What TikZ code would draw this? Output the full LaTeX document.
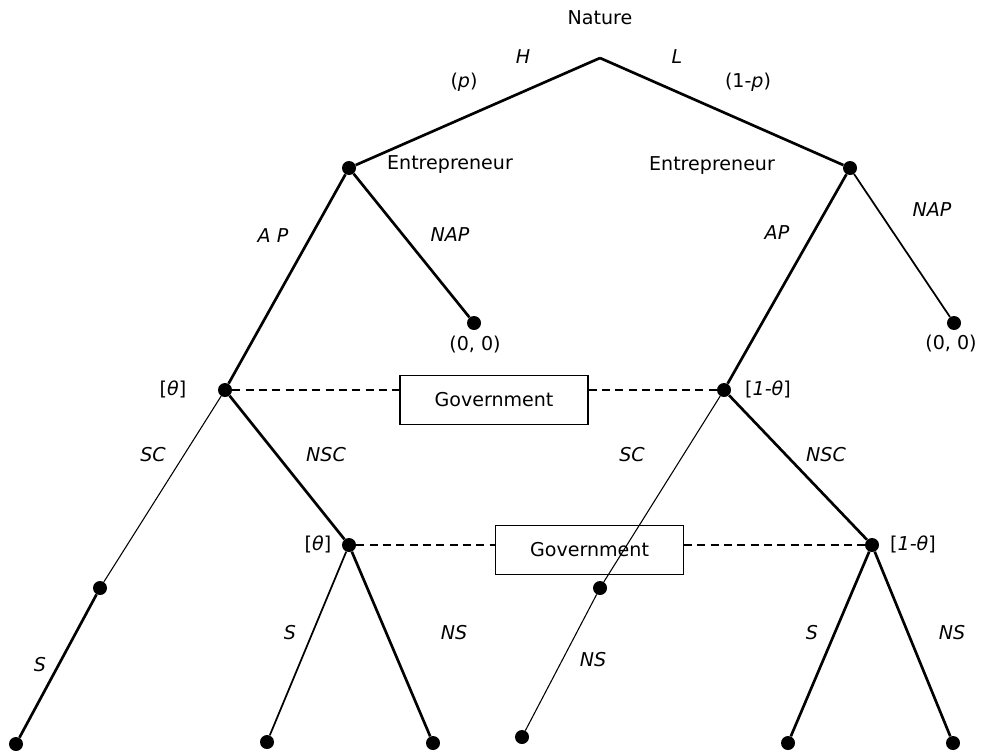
\documentclass[tikz,border=0pt]{standalone}
\usepackage{fontspec}
\setmainfont{DejaVu Sans}
\usepackage{tikz}
\usetikzlibrary{positioning}

\begin{document}
\begin{tikzpicture}[
        x=0.75pt, y=-0.75pt,
        font=\fontsize{14.3}{17}\selectfont,
        punto/.style={circle, fill=black, inner sep=0pt, minimum size=10.5pt},
        caja/.style={draw, thick, inner sep=0pt, minimum width=141pt, minimum height=37pt},
        rama/.style={line width=2pt},
        ramamedia/.style={line width=1.3pt},
        ramafina/.style={line width=0.8pt},
        info/.style={dashed, line width=1.3pt, dash pattern=on 6pt off 4pt},
        etiq/.style={font=\fontsize{14.3}{17}\selectfont\itshape}
    ]
        \useasboundingbox (0,0) rectangle (984,753);
        % nodos del arbol
        \coordinate (nat) at (600,58);
        \node[punto] (e1) at (349,168) {};
        \node[punto] (e2) at (850,168) {};
        \node[punto] (t1) at (474,323) {};
        \node[punto] (t2) at (954,323) {};
        \node[punto] (g1) at (225,390) {};
        \node[punto] (g2) at (724,390) {};
        \node[punto] (c1) at (100,588) {};
        \node[punto] (g3) at (349,545) {};
        \node[punto] (c2) at (600,588) {};
        \node[punto] (g4) at (872,545) {};
        \node[punto] (h1) at (16,744) {};
        \node[punto] (h2) at (267,742) {};
        \node[punto] (h3) at (433,743) {};
        \node[punto] (h4) at (522,737) {};
        \node[punto] (h5) at (788,743) {};
        \node[punto] (h6) at (953,743) {};
        \node[caja] (gob1) at (494,400) {Government};
        \node[caja] (gob2) at (589.5,550) {Government};
        % textos
        \node (natlbl) at (600,18) {Nature};
        \node[etiq] (lh) at (523,57) {H};
        \node[etiq] (ll) at (677,57) {L};
        \node (lp) at (464,82) {(\textit{p})};
        \node (l1p) at (748,82) {(1-\textit{p})};
        \node (ent1) at (450,165) {Entrepreneur};
        \node (ent2) at (712,166) {Entrepreneur};
        \node[etiq] (lap1) at (273,236) {A P};
        \node[etiq] (lnap1) at (450,235) {NAP};
        \node[etiq] (lap2) at (777,233) {AP};
        \node[etiq] (lnap2) at (932,210) {NAP};
        \node (pago1) at (475,345) {(0, 0)};
        \node (pago2) at (951,344) {(0, 0)};
        \node (th1) at (173,389) {[\textit{θ}]};
        \node (th2) at (768,389) {[\textit{1-θ}]};
        \node[etiq] (lsc1) at (153,455) {SC};
        \node[etiq] (lnsc1) at (326,455) {NSC};
        \node[etiq] (lsc2) at (632,455) {SC};
        \node[etiq] (lnsc2) at (826,455) {NSC};
        \node (th3) at (318,544) {[\textit{θ}]};
        \node (th4) at (913,544) {[\textit{1-θ}]};
        \node[etiq] (ls1) at (40,665) {S};
        \node[etiq] (ls2) at (290,633) {S};
        \node[etiq] (lns2) at (454,633) {NS};
        \node[etiq] (lns3) at (593,660) {NS};
        \node[etiq] (ls4) at (812,633) {S};
        \node[etiq] (lns4) at (952,633) {NS};
        % ramas
        \draw[rama] (nat) -- (e1);
        \draw[rama] (nat) -- (e2);
        \draw[rama] (e1) -- (t1);
        \draw[rama] (e1) -- (g1);
        \draw[ramamedia] (e2) -- (t2);
        \draw[rama] (e2) -- (g2);
        \draw[ramafina] (g1) -- (c1);
        \draw[rama] (g1) -- (g3);
        \draw[ramafina] (g2) -- (c2);
        \draw[rama] (g2) -- (g4);
        \draw[rama] (c1) -- (h1);
        \draw[ramamedia] (g3) -- (h2);
        \draw[rama] (g3) -- (h3);
        \draw[ramafina] (c2) -- (h4);
        \draw[rama] (g4) -- (h5);
        \draw[rama] (g4) -- (h6);
        % conjuntos de informacion
        \draw[info] (g1) -- (gob1.west |- g1);
        \draw[info] (gob1.east |- g2) -- (g2);
        \draw[info] (g3) -- (gob2.west |- g3);
        \draw[info] (gob2.east |- g4) -- (g4);
    \end{tikzpicture}
\end{document}
